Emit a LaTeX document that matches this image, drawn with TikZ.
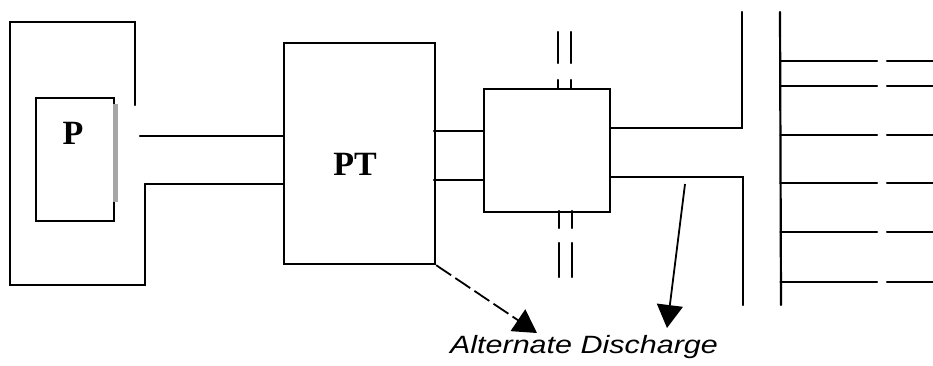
\documentclass[tikz,border=0pt]{standalone}
\usepackage{fontspec}
\setmainfont{Liberation Serif}
\newfontfamily\labelsans{Liberation Sans}
\usetikzlibrary{arrows.meta}
\tikzset{
  pipe/.style={line width=2.2pt, line cap=round},
  boxnode/.style={draw, line width=2.2pt, inner sep=0pt, anchor=north west},
  biglbl/.style={font=\fontsize{34}{34}\selectfont\bfseries, inner sep=0pt},
  flowarrow/.style={line width=1.8pt, -{Triangle[length=23pt,width=26pt]}},
  noteText/.style={font=\labelsans\itshape\fontsize{25}{25}\selectfont, inner sep=0pt, anchor=base}
}
\begin{document}
\begin{tikzpicture}[x=1pt,y=-1pt]
\useasboundingbox (0,0) rectangle (933,365);
% P unit
\node[boxnode, minimum width=78pt, minimum height=123pt] (Pbox) at (35,97) {};
\fill[gray!70] (113,104) rectangle (118,202);
\node[biglbl] (Plabel) at (73,133) {P};
% outer frame
\draw[pipe] (135,105) -- (135,22) -- (10,22) -- (10,285) -- (145,285) -- (145,184);
% PT unit
\node[boxnode, minimum width=151pt, minimum height=221pt] (PT) at (283,42) {};
\node[biglbl] (PTlabel) at (355,164) {PT};
% pipes frame -> PT
\coordinate (a1) at (140,136);
\coordinate (a2) at (145,184);
\draw[pipe] (a1) -- (a1 -| PT.west);
\draw[pipe] (a2) -- (a2 -| PT.west);
% small box
\node[boxnode, minimum width=126pt, minimum height=123pt] (SB) at (483,88) {};
\coordinate (b1) at (434,131);
\coordinate (b2) at (434,180);
\draw[pipe] (b1) -- (b1 -| SB.west);
\draw[pipe] (b2) -- (b2 -| SB.west);
% double bars
\draw[pipe] (558,32) -- (558,63) (571,32) -- (571,63);
\draw[pipe] (558,80) -- (558,88) (571,80) -- (571,88);
\draw[pipe] (559,211) -- (559,228) (572,211) -- (572,228);
\draw[pipe] (559,243) -- (559,277) (572,243) -- (572,277);
% pipes to manifold
\draw[pipe] (SB.east |- 0,128) -- (742,128) -- (742,12);
\draw[pipe] (SB.east |- 0,177) -- (743,177) -- (743,305);
% manifold
\coordinate (m1) at (780,12);
\coordinate (m2) at (781,305);
\draw[pipe] (m1) -- (m2);
\foreach \yy in {61,86,135,183,232,282}{
  \draw[pipe] (780.5,\yy) -- (877,\yy);
  \draw[pipe] (887,\yy) -- (933,\yy);
}
% label and arrows
\node[noteText] (AD) at (584,353) {\scalebox{1.22}[1]{Alternate Discharge}};
\coordinate (t1) at (537,333);
\coordinate (s2) at (685,184);
\coordinate (t2) at (667,328);
\draw[flowarrow, dash pattern=on 18pt off 5pt] (PT.south east) -- (t1);
\draw[flowarrow] (s2) -- (t2);
\end{tikzpicture}
\end{document}
